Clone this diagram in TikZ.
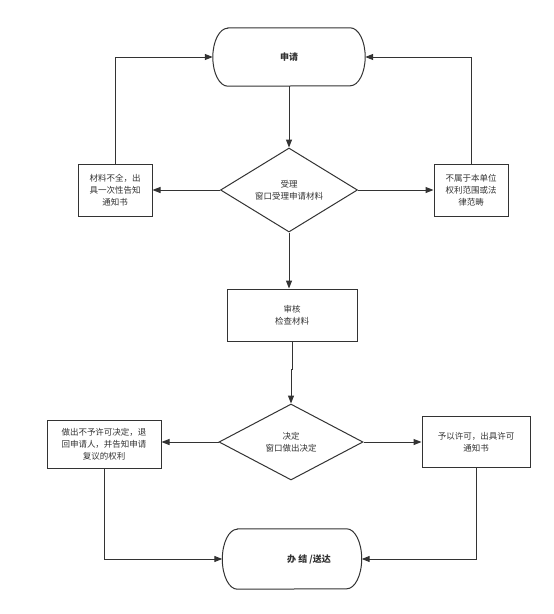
\documentclass[tikz,border=0pt]{standalone}
\usepackage{fontspec}
\setmainfont{Noto Sans CJK SC}
\usetikzlibrary{shapes.geometric,calc,arrows.meta}
\definecolor{ln}{HTML}{333333}
\newcommand\stadiumoutline[3]{%
  \draw[ln, line width=1pt] ($(#1.north west)+(#2,0)$) -- ($(#1.north east)+(-#2,0)$)
    arc[start angle=90, end angle=-90, x radius=#2, y radius=#3]
    -- ($(#1.south west)+(#2,0)$)
    arc[start angle=270, end angle=90, x radius=#2, y radius=#3] -- cycle;}
\begin{document}
\begin{tikzpicture}[x=1pt,y=1pt,
 every node/.style={font=\fontsize{8.5}{12}\selectfont, text=ln, align=center},
 box/.style={draw=ln, line width=1pt, rectangle, inner sep=0pt},
 dia/.style={draw=ln, line width=1pt, diamond, inner sep=0pt},
 term/.style={rectangle, inner sep=0pt, font=\bfseries\fontsize{9}{12}\selectfont},
 arr/.style={draw=ln, line width=1pt, -{Triangle[length=8pt,width=6pt]}}]
\fill[white] (0,0) rectangle (554,-614);
\useasboundingbox (0,0) rectangle (554,-614);

\node[term, minimum width=152, minimum height=58] (s) at (289,-57) {申请};
\stadiumoutline{s}{15}{29}
\node[dia, minimum width=137, minimum height=84, aspect=1.63] (d1) at (289,-190) {受理\\窗口受理申请材料};
\node[box, minimum width=74, minimum height=52] (l1) at (115,-190) {材料不全，出\\具一次性告知\\通知书};
\node[box, minimum width=74, minimum height=52] (r1) at (471,-190) {不属于本单位\\权利范围或法\\律范畴};
\node[box, minimum width=130, minimum height=52] (rv) at (292,-315) {审核\\检查材料};
\node[dia, minimum width=144, minimum height=76, aspect=1.9] (d2) at (291,-442) {决定\\窗口做出决定};
\node[box, minimum width=114, minimum height=48] (l2) at (104,-444) {做出不予许可决定，退\\回申请人，并告知申请\\复议的权利};
\node[box, minimum width=108, minimum height=51] (r2) at (476,-442) {予以许可，出具许可\\通知书};
\node[term, minimum width=139, minimum height=60] (e) at (292,-559) {\hspace*{34pt}办 结 /送达};
\stadiumoutline{e}{15}{30}

\draw[arr] (s.south) -- (d1.north);
\draw[arr] (d1.west) -- (l1.east);
\draw[arr] (l1.north) |- (s.west);
\draw[arr] (d1.east) -- (r1.west);
\draw[arr] (r1.north) |- (s.east);
\draw[arr] (d1.south) -- (d1.south |- rv.north);
\draw[arr] (rv.south) -- ++(0,-28) -| (d2.north);
\draw[arr] (d2.west) -- (d2.west -| l2.east);
\draw[arr] (d2.east) -- (d2.east -| r2.west);
\draw[arr] (l2.south) |- (e.west);
\draw[arr] (r2.south) |- (e.east);
\end{tikzpicture}
\end{document}
